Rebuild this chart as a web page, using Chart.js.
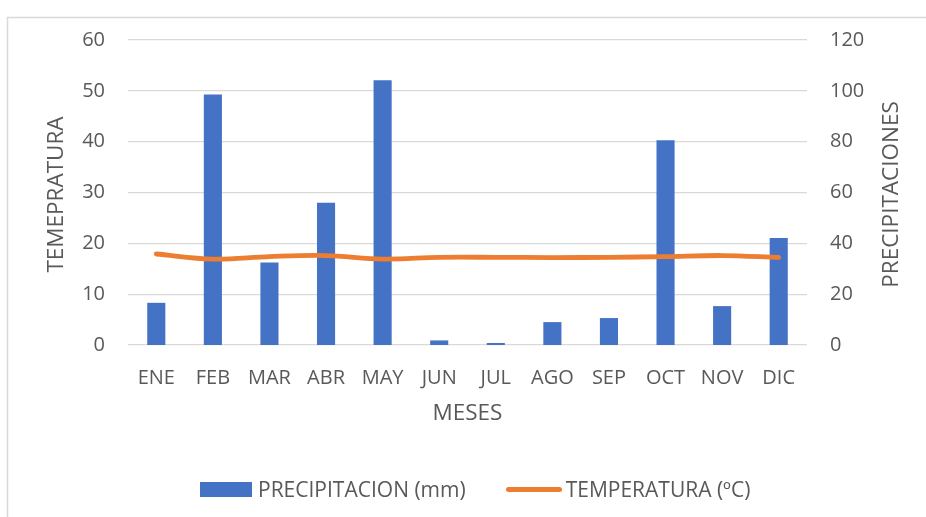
<!DOCTYPE html>
<html lang="es">
<head>
<meta charset="UTF-8">
<title>Precipitación y temperatura</title>
<script src="https://cdn.jsdelivr.net/npm/chart.js@4/dist/chart.umd.min.js"></script>
<style>
  html, body { margin: 0; padding: 0; background: #fff; }
  .marco { position: relative; width: 926px; height: 517px; overflow: hidden; }
  .leyenda {
    position: absolute; left: 200px; top: 476px; height: 26px;
    display: flex; align-items: center;
    font-family: 'Open Sans', sans-serif; font-size: 21px; color: #595959;
  }
  .item { display: flex; align-items: center; margin-right: 40px; }
  .caja { width: 52px; height: 15px; margin-right: 6px; }
  .linea { width: 56px; height: 5px; border-radius: 3px; margin-right: 4px; }
</style>
</head>
<body>
<div class="marco">
  <canvas id="grafico" width="926" height="517"></canvas>
  <div class="leyenda" id="leyenda"></div>
</div>

<script>
// datos
const meses = ['ENE', 'FEB', 'MAR', 'ABR', 'MAY', 'JUN', 'JUL', 'AGO', 'SEP', 'OCT', 'NOV', 'DIC'];
const precipitacion = [16.6, 98.6, 32.5, 56.0, 104.2, 1.8, 0.8, 9.0, 10.6, 80.6, 15.3, 42.1];
const temperatura = [17.9, 16.9, 17.4, 17.6, 16.9, 17.25, 17.25, 17.2, 17.25, 17.4, 17.6, 17.25];
const ticksTemp = [0, 10, 20, 30, 40, 50, 60];
const ticksPrec = [0, 20, 40, 60, 80, 100, 120];

const gris = '#595959';
const fuente = "'Open Sans', sans-serif";

// marco y titulos de ejes (el de la derecha va girado como en Excel)
const titulos = {
    id: 'titulos',
    beforeDraw(chart) {
        const ctx = chart.ctx;
        ctx.save();
        ctx.strokeStyle = '#d9d9d9';
        ctx.lineWidth = 1.5;
        ctx.strokeRect(7.5, 17.5, 1200, 1200);
        ctx.restore();
    },
    afterDraw(chart) {
        const ctx = chart.ctx;
        const area = chart.chartArea;
        const midY = (area.top + area.bottom) / 2;
        ctx.save();
        ctx.fillStyle = gris;
        ctx.font = '22.5px ' + fuente;
        ctx.textAlign = 'center';
        ctx.textBaseline = 'middle';

        ctx.fillText('MESES', (area.left + area.right) / 2, 414);

        ctx.translate(57, midY + 2);
        ctx.rotate(-Math.PI / 2);
        ctx.fillText('TEMEPRATURA', 0, 0);
        ctx.restore();

        ctx.save();
        ctx.fillStyle = gris;
        ctx.font = '22.5px ' + fuente;
        ctx.textAlign = 'center';
        ctx.textBaseline = 'middle';
        ctx.translate(892, midY + 2);
        ctx.rotate(-Math.PI / 2);
        ctx.fillText('PRECIPITACIONES', 0, 0);
        ctx.restore();
    }
};

const ctx = document.getElementById('grafico').getContext('2d');
const grafico = new Chart(ctx, {
    data: {
        labels: meses,
        datasets: [
            {
                type: 'line',
                label: 'TEMPERATURA (ºC)',
                data: temperatura,
                yAxisID: 'yTemp',
                borderColor: '#ED7D31',
                backgroundColor: '#ED7D31',
                borderWidth: 4.8,
                borderCapStyle: 'round',
                borderJoinStyle: 'round',
                pointRadius: 0,
                tension: 0.35,
                order: 1
            },
            {
                type: 'bar',
                label: 'PRECIPITACION (mm)',
                data: precipitacion,
                yAxisID: 'yPrec',
                backgroundColor: '#4472C4',
                borderWidth: 0,
                barPercentage: 0.32,
                categoryPercentage: 1,
                order: 2
            }
        ]
    },
    options: {
        responsive: false,
        animation: false,
        layout: { padding: { left: 30, right: 0, top: 40, bottom: 77 } },
        plugins: {
            tooltip: { enabled: false },
            legend: { display: false }
        },
        scales: {
            x: {
                grid: { display: false },
                border: { display: false },
                ticks: { color: gris, font: { family: fuente, size: 20 }, padding: 13 },
                afterFit(scale) { scale.height = 95; }
            },
            yTemp: {
                position: 'left',
                min: 0,
                max: 60,
                afterBuildTicks(scale) { scale.ticks = ticksTemp.map(v => ({ value: v })); },
                grid: { color: '#d9d9d9', lineWidth: 1.3, drawTicks: false },
                border: { display: false },
                ticks: { color: gris, font: { family: fuente, size: 20 }, padding: 23 },
                afterFit(scale) { scale.width = 98; }
            },
            yPrec: {
                position: 'right',
                min: 0,
                max: 120,
                afterBuildTicks(scale) { scale.ticks = ticksPrec.map(v => ({ value: v })); },
                grid: { display: false, drawTicks: false },
                border: { display: false },
                ticks: { color: gris, font: { family: fuente, size: 20 }, padding: 23 },
                afterFit(scale) { scale.width = 119; }
            }
        }
    },
    plugins: [titulos]
});

// leyenda en html: barras primero, luego la linea
const leyenda = document.getElementById('leyenda');
grafico.data.datasets.slice().reverse().forEach(ds => {
    const item = document.createElement('div');
    item.className = 'item';
    const marca = document.createElement('span');
    marca.className = ds.type === 'line' ? 'linea' : 'caja';
    marca.style.background = ds.type === 'line' ? ds.borderColor : ds.backgroundColor;
    const texto = document.createElement('span');
    texto.textContent = ds.label;
    item.appendChild(marca);
    item.appendChild(texto);
    leyenda.appendChild(item);
});
</script>
</body>
</html>
